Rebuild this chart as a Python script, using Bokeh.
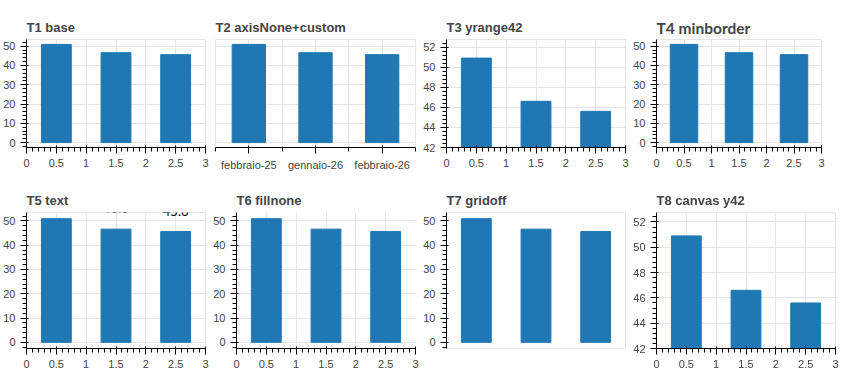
from bokeh.plotting import figure
from bokeh.models import Range1d, LinearAxis, FixedTicker, ColumnDataSource
from bokeh.layouts import row, column
from bokeh.core.properties import value
from bokeh.embed import file_html
from bokeh.resources import INLINE

months = ["febbraio-25", "gennaio-26", "febbraio-26"]
difficulty = [50.9, 46.6, 45.6]
n = 3
slots = [0.5, 1.5, 2.5]


def mk(tag, backend="svg", **kw):
    p = figure(width=210, height=185, output_backend=backend, toolbar_location=None,
               title=tag, **kw)
    return p


figs = []
# 1 baseline
p = mk("T1 base", x_range=Range1d(0, 3))
p.vbar(x=slots, top=difficulty, width=0.5)
figs.append(p)
# 2 no default axes + custom axis
p = mk("T2 axisNone+custom", x_range=Range1d(0, 3), x_axis_location=None, y_axis_location=None)
p.vbar(x=slots, top=difficulty, width=0.5)
p.add_layout(LinearAxis(ticker=FixedTicker(ticks=slots, minor_ticks=[0, 1, 2, 3]),
                        major_label_overrides={s: m for s, m in zip(slots, months)}), "below")
figs.append(p)
# 3 y range 42..
p = mk("T3 yrange42", x_range=Range1d(0, 3), y_range=Range1d(42, 52.75))
p.vbar(x=slots, top=difficulty, width=0.5)
figs.append(p)
# 4 title font + min borders
p = mk("T4 minborder", x_range=Range1d(0, 3), min_border_left=19, min_border_right=19,
       min_border_top=39, min_border_bottom=38)
p.title.text_font = "Lato"
p.title.text_font_size = "15.5px"
p.title.standoff = 6
p.vbar(x=slots, top=difficulty, width=0.5)
figs.append(p)
# 5 text glyph
p = mk("T5 text", x_range=Range1d(0, 3))
p.vbar(x=slots, top=difficulty, width=0.5)
p.text(x=slots, y=difficulty, text=[str(v) for v in difficulty], y_offset=-16,
       text_font=value("Lato"), text_font_size="13px", text_align="center")
figs.append(p)
# 6 fills none
p = mk("T6 fillnone", x_range=Range1d(0, 3), outline_line_color=None,
       background_fill_color=None, border_fill_color=None)
p.vbar(x=slots, top=difficulty, width=0.5)
figs.append(p)
# 7 grid off + axis None only
p = mk("T7 gridoff", x_range=Range1d(0, 3), x_axis_location=None)
p.grid.visible = False
p.vbar(x=slots, top=difficulty, width=0.5)
figs.append(p)
# 8 canvas backend, y range 42
p = mk("T8 canvas y42", backend="canvas", x_range=Range1d(0, 3), y_range=Range1d(42, 52.75))
p.vbar(x=slots, top=difficulty, width=0.5)
figs.append(p)

layout = column(row(*figs[:4]), row(*figs[4:]))
open("out.html", "w").write(file_html(layout, INLINE))
